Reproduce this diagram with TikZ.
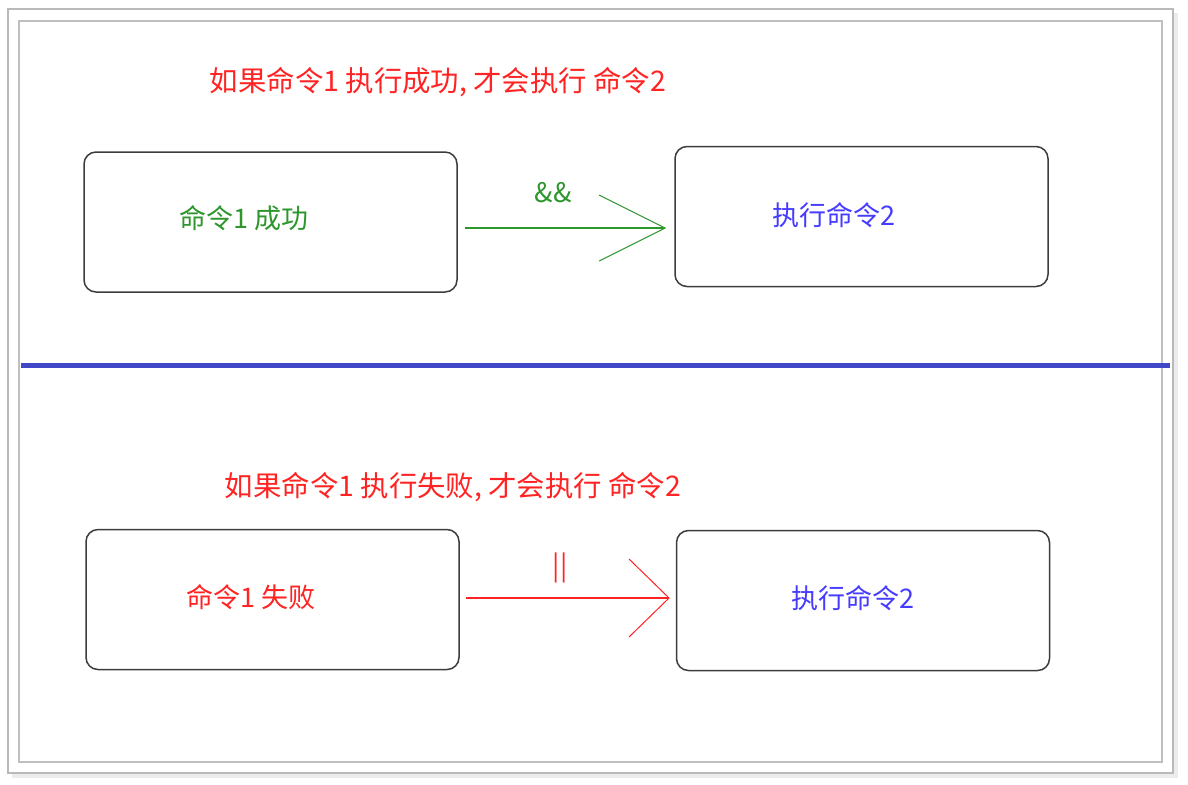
\documentclass[tikz,border=0pt]{standalone}
\usepackage{fontspec}
\setmainfont{Noto Sans CJK SC}
\usepackage{xcolor}
\usepackage{tikz}
\usetikzlibrary{arrows.meta,positioning,calc}
\definecolor{cmdred}{RGB}{255,35,35}
\definecolor{cmdgreen}{RGB}{45,150,45}
\definecolor{cmdblue}{RGB}{70,60,255}
\definecolor{sepblue}{RGB}{64,72,200}
\definecolor{boxgray}{RGB}{60,60,60}
\tikzset{
  cmdbox/.style={draw=boxgray,line width=0.75pt,rounded corners=6pt,minimum width=186.5pt,minimum height=70pt,inner sep=0pt},
  cmdlab/.style={font=\fontsize{13.5}{16}\selectfont,inner sep=0pt},
  cmdtitle/.style={font=\fontsize{14.2}{17}\selectfont,inner sep=0pt,text=cmdred},
  okarrow/.style={cmdgreen,line width=0.7pt,-{Straight Barb[length=33pt,width=33pt,line width=0.5pt]},shorten <=3.5pt,shorten >=4pt},
  failarrow/.style={cmdred,line width=0.8pt,-{Straight Barb[length=20pt,width=39pt,line width=0.5pt]},shorten <=3pt,shorten >=3pt},
  oplab/.style={font=\fontsize{13.5}{16}\selectfont,inner sep=0pt}
}
\begin{document}
\begin{tikzpicture}[x=0.5pt,y=-0.5pt]
  \useasboundingbox (0,0) rectangle (1188,784);
  % frame
  \fill[gray!15] (12,13) rectangle (1178,778);
  \draw[gray!55,line width=1pt,fill=white] (8,9) rectangle (1173,773);
  \draw[gray!50,line width=0.7pt] (19,21) rectangle (1162,762);
  % upper half: &&
  \node[cmdtitle] (titleok) at (438,82) {如果命令1 执行成功, 才会执行 命令2};
  \node[cmdbox] (ok1) at (270.5,222) {};
  \node[cmdbox] (ok2) at (861.5,216.5) {};
  \node[cmdlab,text=cmdgreen] (okl) at (244,218) {命令1 成功};
  \node[cmdlab,text=cmdblue] (okr) at (834,215) {执行命令2};
  \draw[okarrow] ($(ok1.east)+(0,6)$) -- ($(ok2.west)+(0,11.5)$);
  \node[oplab,text=cmdgreen] (andop) at (553,193) {\&\&};
  % separator
  \draw[sepblue,line width=2.5pt] (21,365) -- (1170,365);
  % lower half: ||
  \node[cmdtitle] (titlefail) at (453,487) {如果命令1 执行失败, 才会执行 命令2};
  \node[cmdbox] (fail1) at (272.5,599.5) {};
  \node[cmdbox] (fail2) at (863,600.5) {};
  \node[cmdlab,text=cmdred] (faill) at (251,597) {命令1 失败};
  \node[cmdlab,text=cmdblue] (failr) at (853,598) {执行命令2};
  \draw[failarrow] ($(fail1.east)+(0,-1.5)$) -- ($(fail2.west)+(0,-2.5)$);
  \node[oplab,text=cmdred] (orop) at (560,568) {||};
\end{tikzpicture}
\end{document}
